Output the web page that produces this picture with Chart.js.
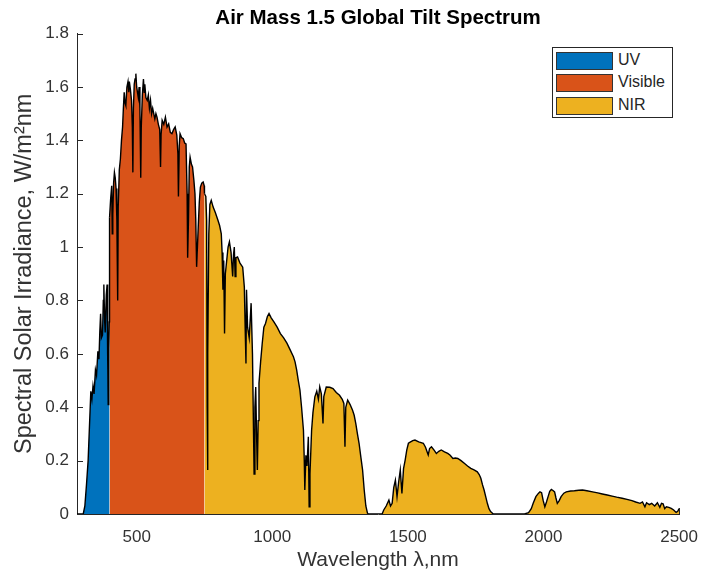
<!DOCTYPE html>
<html>
<head>
<meta charset="utf-8">
<script src="https://cdn.jsdelivr.net/npm/chart.js@4.4.1/dist/chart.umd.min.js"></script>
<style>
  body { margin: 0; background: #fff; }
  #wrap { position: relative; width: 711px; height: 575px; }
  #legend {
    position: absolute; left: 552px; top: 47px; width: 119px; height: 69px;
    border: 1px solid #262626; background: #fff;
    font-family: "Liberation Sans", Arial, sans-serif; font-size: 16px; color: #262626;
  }
  #legend .row { position: absolute; left: 3px; height: 17px; }
  #legend .sw { position: absolute; left: 0; top: 0; width: 55px; height: 16px; border: 1px solid #333; }
  #legend .lbl { position: absolute; left: 62px; top: -1px; line-height: 18px; white-space: nowrap; }
</style>
</head>
<body>
<div id="wrap">
  <canvas id="spectrum" width="711" height="575"></canvas>
  <div id="legend"></div>
</div>
<script>
// AM1.5G spettro (nm, W/m^2/nm)
const wavelengths = [
  280, 295, 303, 309, 315, 321, 326, 331, 335, 339, 343, 348, 352, 357, 361, 364, 367, 370, 374, 377,
  379, 382, 384, 388, 391, 393, 395, 397, 399, 400, 404, 408, 410, 412, 415, 418, 421, 424, 427, 430,
  432, 436, 440, 444, 448, 451, 454, 457, 460, 464, 468, 471, 473, 477, 481, 484, 486, 488, 491, 494,
  497, 500, 503, 506, 509, 512, 515, 517, 521, 525, 528, 530, 534, 539, 543, 547, 551, 555, 559, 563,
  567, 571, 575, 580, 585, 588, 590, 594, 600, 606, 612, 618, 624, 630, 636, 642, 648, 652, 654, 657,
  660, 666, 672, 677, 682, 686, 688, 691, 694, 697, 702, 706, 711, 715, 718, 721, 724, 727, 731, 735,
  740, 745, 749, 750, 755, 758, 760, 761, 763, 766, 770, 775, 782, 790, 800, 806, 812, 815, 818, 821,
  824, 827, 832, 837, 842, 848, 854, 857, 860, 863, 866, 872, 881, 891, 897, 900, 903, 905, 909, 915,
  922, 927, 933, 936, 939, 942, 945, 948, 951, 957, 963, 969, 975, 982, 988, 996, 1006, 1018, 1030, 1042,
  1054, 1066, 1078, 1084, 1090, 1096, 1102, 1108, 1115, 1118, 1120, 1124, 1128, 1133, 1136, 1139, 1145, 1150, 1157, 1164,
  1170, 1175, 1181, 1187, 1190, 1199, 1212, 1224, 1236, 1248, 1258, 1264, 1268, 1271, 1278, 1287, 1296, 1302, 1308, 1314,
  1320, 1327, 1333, 1339, 1345, 1351, 1355, 1405, 1411, 1420, 1430, 1436, 1442, 1448, 1454, 1460, 1466, 1472, 1478, 1484,
  1490, 1496, 1502, 1510, 1518, 1526, 1540, 1557, 1565, 1575, 1580, 1587, 1596, 1605, 1614, 1623, 1635, 1647, 1656, 1666,
  1675, 1684, 1696, 1708, 1720, 1732, 1744, 1756, 1763, 1769, 1775, 1781, 1787, 1793, 1799, 1805, 1815, 1930, 1945, 1955,
  1962, 1972, 1981, 1987, 1993, 1999, 2005, 2011, 2017, 2023, 2029, 2035, 2041, 2046, 2051, 2058, 2065, 2075, 2084, 2100,
  2114, 2130, 2144, 2160, 2181, 2200, 2217, 2235, 2253, 2270, 2290, 2308, 2326, 2340, 2356, 2365, 2374, 2380, 2390, 2399,
  2410, 2420, 2429, 2435, 2441, 2447, 2453, 2462, 2471, 2480, 2489, 2495, 2500
];
const irradiance = [
  0, 0, 0, 0.03, 0.11, 0.20, 0.33, 0.46, 0.43, 0.48, 0.45, 0.54, 0.52, 0.61, 0.58, 0.68, 0.75, 0.66, 0.67, 0.80,
  0.86, 0.72, 0.68, 0.82, 0.86, 0.60, 0.41, 0.62, 0.72, 1.11, 1.18, 1.23, 1.05, 1.12, 1.24, 1.28, 1.26, 1.22, 1.10, 0.80,
  1.15, 1.29, 1.33, 1.40, 1.45, 1.52, 1.58, 1.54, 1.53, 1.60, 1.62, 1.58, 1.62, 1.59, 1.55, 1.45, 1.28, 1.52, 1.61, 1.63,
  1.65, 1.60, 1.58, 1.56, 1.60, 1.52, 1.26, 1.45, 1.57, 1.63, 1.58, 1.61, 1.56, 1.55, 1.57, 1.52, 1.55, 1.50, 1.52, 1.50,
  1.48, 1.50, 1.487, 1.46, 1.44, 1.30, 1.42, 1.475, 1.46, 1.487, 1.45, 1.462, 1.43, 1.425, 1.44, 1.45, 1.42, 1.35, 1.19, 1.38,
  1.425, 1.41, 1.406, 1.39, 1.387, 1.20, 0.96, 1.10, 1.30, 1.337, 1.31, 1.30, 1.25, 1.20, 1.10, 0.926, 1.00, 1.075, 1.17, 1.225,
  1.24, 1.244, 1.23, 1.20, 1.19, 1.10, 0.40, 0.165, 0.60, 1.05, 1.16, 1.175, 1.15, 1.13, 1.10, 1.08, 1.05, 0.98, 0.84, 0.95,
  0.676, 0.90, 0.95, 1.00, 1.02, 0.98, 0.89, 0.97, 1.00, 0.89, 0.96, 0.963, 0.94, 0.925, 0.85, 0.70, 0.564, 0.84, 0.70, 0.66,
  0.79, 0.60, 0.15, 0.40, 0.476, 0.30, 0.165, 0.35, 0.49, 0.57, 0.64, 0.70, 0.714, 0.74, 0.751, 0.735, 0.72, 0.70, 0.676, 0.66,
  0.64, 0.615, 0.589, 0.57, 0.539, 0.50, 0.464, 0.40, 0.314, 0.20, 0.09, 0.22, 0.18, 0.289, 0.027, 0.15, 0.314, 0.38, 0.439, 0.46,
  0.43, 0.476, 0.45, 0.339, 0.44, 0.476, 0.475, 0.47, 0.455, 0.445, 0.43, 0.414, 0.252, 0.40, 0.427, 0.41, 0.389, 0.37, 0.339, 0.30,
  0.265, 0.21, 0.165, 0.09, 0.03, 0.003, 0, 0, 0.015, 0.03, 0.052, 0.03, 0.04, 0.10, 0.127, 0.065, 0.12, 0.165, 0.077, 0.17,
  0.202, 0.24, 0.265, 0.27, 0.275, 0.277, 0.27, 0.265, 0.25, 0.221, 0.245, 0.252, 0.24, 0.227, 0.235, 0.24, 0.233, 0.227, 0.22, 0.208,
  0.21, 0.208, 0.20, 0.19, 0.18, 0.171, 0.165, 0.158, 0.148, 0.134, 0.11, 0.09, 0.065, 0.04, 0.02, 0.009, 0, 0, 0.005, 0.02,
  0.04, 0.065, 0.077, 0.083, 0.08, 0.05, 0.027, 0.045, 0.065, 0.085, 0.092, 0.088, 0.083, 0.06, 0.04, 0.05, 0.065, 0.078, 0.083, 0.086,
  0.087, 0.089, 0.09, 0.087, 0.083, 0.079, 0.075, 0.071, 0.067, 0.063, 0.059, 0.055, 0.05, 0.045, 0.04, 0.045, 0.027, 0.042, 0.035, 0.04,
  0.03, 0.042, 0.025, 0.04, 0.038, 0.02, 0.027, 0.025, 0.021, 0.015, 0.006, 0.01, 0.02
];

// Bande spettrali
const bandNames = ['UV', 'Visible', 'NIR'];
const bandEdges = [[280, 400], [400, 750], [750, 2500]];
const bandColors = ['#0072BD', '#D95319', '#EDB120'];

const xTicks = [500, 1000, 1500, 2000, 2500];
const yTicks = [0, 0.2, 0.4, 0.6, 0.8, 1, 1.2, 1.4, 1.6, 1.8];

const FONT = '"Liberation Sans", Arial, sans-serif';
const AXIS_COLOR = '#262626';

function bandPoints(lo, hi) {
    const pts = [];
    for (let i = 0; i < wavelengths.length; i++) {
        if (wavelengths[i] >= lo && wavelengths[i] <= hi) {
            pts.push({ x: wavelengths[i], y: irradiance[i] });
        }
    }
    return pts;
}

const datasets = bandNames.map((name, i) => ({
    label: name,
    data: bandPoints(bandEdges[i][0], bandEdges[i][1]),
    backgroundColor: bandColors[i],
    borderColor: '#000',
    borderWidth: 1.4,
    pointRadius: 0,
    fill: 'origin',
    tension: 0
}));

// Tacche verso l'interno, stile MATLAB (disegnate sotto i dati)
const inwardTicks = {
    id: 'inwardTicks',
    beforeDatasetsDraw(chart) {
        const { ctx, chartArea, scales } = chart;
        ctx.save();
        ctx.strokeStyle = AXIS_COLOR;
        ctx.lineWidth = 1;
        scales.y.ticks.forEach(t => {
            const py = Math.round(scales.y.getPixelForValue(t.value)) + 0.5;
            ctx.beginPath();
            ctx.moveTo(chartArea.left, py);
            ctx.lineTo(chartArea.left + 6, py);
            ctx.stroke();
        });
        scales.x.ticks.forEach(t => {
            const px = Math.round(scales.x.getPixelForValue(t.value)) + 0.5;
            ctx.beginPath();
            ctx.moveTo(px, chartArea.bottom);
            ctx.lineTo(px, chartArea.bottom - 6);
            ctx.stroke();
        });
        ctx.restore();
    }
};

const ctx = document.getElementById('spectrum').getContext('2d');
new Chart(ctx, {
    type: 'line',
    data: { datasets: datasets },
    plugins: [inwardTicks],
    options: {
        responsive: false,
        animation: false,
        layout: { padding: { left: 0, right: 24, top: 0, bottom: 0 } },
        scales: {
            x: {
                type: 'linear',
                min: 280,
                max: 2500,
                afterFit: (scale) => { scale.height = 61; },
                afterBuildTicks: (scale) => { scale.ticks = xTicks.map(v => ({ value: v })); },
                grid: { display: false, drawTicks: false },
                border: { display: true, color: AXIS_COLOR, width: 1 },
                ticks: {
                    color: '#333', padding: 13, font: { family: FONT, size: 17 }, maxRotation: 0,
                    callback: (value) => String(value)
                },
                title: {
                    display: true,
                    text: 'Wavelength λ,nm',
                    color: '#333',
                    font: { family: FONT, size: 21 },
                    padding: { top: 0, bottom: 2 }
                }
            },
            y: {
                min: 0,
                max: 1.8,
                afterFit: (scale) => { scale.width = 77; },
                afterBuildTicks: (scale) => { scale.ticks = yTicks.map(v => ({ value: v })); },
                grid: { display: false, drawTicks: false },
                border: { display: true, color: AXIS_COLOR, width: 1 },
                ticks: {
                    color: '#333', padding: 8, font: { family: FONT, size: 17 },
                    callback: (value) => String(+value.toFixed(1))
                },
                title: {
                    display: true,
                    text: 'Spectral Solar Irradiance, W/m²nm',
                    color: '#333',
                    font: { family: FONT, size: 23.5 },
                    padding: { top: 10, bottom: 0 }
                }
            }
        },
        plugins: {
            legend: { display: false },
            tooltip: { enabled: false },
            title: {
                display: true,
                fullSize: false,
                text: 'Air Mass 1.5 Global Tilt Spectrum',
                color: '#000',
                font: { family: FONT, size: 20.5, weight: 'bold' },
                padding: { top: 6, bottom: 3 }
            }
        }
    }
});

// Legenda HTML dentro l'area del grafico
const legendEl = document.getElementById('legend');
bandNames.forEach((name, i) => {
    const row = document.createElement('div');
    row.className = 'row';
    row.style.top = (4 + i * 22.3) + 'px';
    row.innerHTML = '<div class="sw" style="background:' + bandColors[i] + '"></div><span class="lbl">' + name + '</span>';
    legendEl.appendChild(row);
});
</script>
</body>
</html>
